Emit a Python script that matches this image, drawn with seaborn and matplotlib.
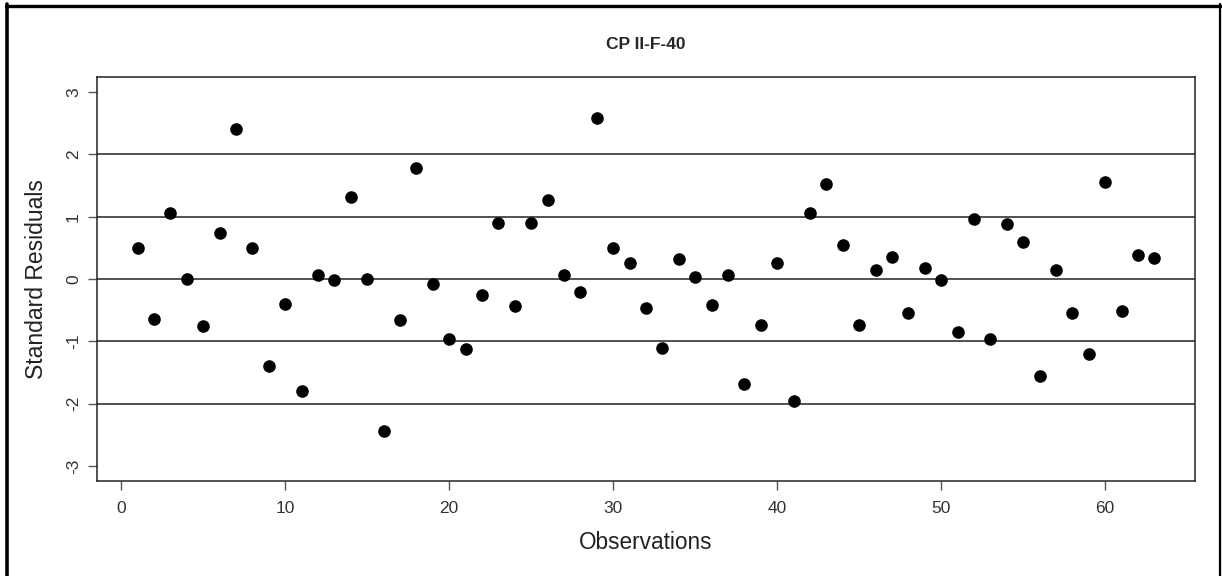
import matplotlib
matplotlib.use('Agg')

import matplotlib.pyplot as plt
import seaborn as sns
import pandas as pd
from matplotlib.lines import Line2D

observations = list(range(1, 64))
residuals = [0.49, -0.64, 1.06, 0.0, -0.76, 0.74, 2.40, 0.50, -1.39, -0.40,
             -1.80, 0.07, -0.02, 1.31, 0.0, -2.44, -0.65, 1.78, -0.08, -0.96,
             -1.13, -0.26, 0.90, -0.44, 0.90, 1.26, 0.07, -0.21, 2.58, 0.50,
             0.26, -0.47, -1.11, 0.32, 0.04, -0.41, 0.07, -1.68, -0.73, 0.26,
             -1.95, 1.06, 1.52, 0.55, -0.74, 0.14, 0.36, -0.55, 0.17, -0.02,
             -0.85, 0.96, -0.97, 0.89, 0.60, -1.56, 0.14, -0.54, -1.20, 1.56,
             -0.52, 0.39, 0.33]
ref_lines = [-2, -1, 0, 1, 2]
x_ticks = [0, 10, 20, 30, 40, 50, 60]
y_ticks = [-3, -2, -1, 0, 1, 2, 3]

df = pd.DataFrame({'obs': observations, 'res': residuals})

sns.set_style('white')
plt.rcParams['font.family'] = ['Liberation Sans', 'DejaVu Sans']

fig = plt.figure(figsize=(12.22, 5.76), dpi=100)
ax = fig.add_axes([0.0794, 0.1649, 0.8985, 0.7014])

for h in ref_lines:
    ax.axhline(h, color='#222222', lw=1.1, zorder=1)

sns.scatterplot(data=df, x='obs', y='res', ax=ax, color='black', s=82,
                edgecolor='black', linewidth=0, zorder=3)

ax.set_xlim(-1.48, 65.48)
ax.set_ylim(-3.24, 3.24)
ax.set_xticks(x_ticks)
ax.set_yticks(y_ticks)
ax.set_yticklabels([str(t) for t in y_ticks], rotation=90, va='center')
ax.tick_params(axis='both', direction='out', length=6.5, width=1,
               color='#555555', labelcolor='#333333', labelsize=12.5,
               bottom=True, left=True)
ax.tick_params(axis='x', pad=8)
ax.tick_params(axis='y', pad=5)
for sp in ax.spines.values():
    sp.set_color('#222222')
    sp.set_linewidth(1.1)

ax.set_xlabel('Observations', fontsize=16.3, color='#222222', labelpad=11)
ax.set_ylabel('Standard Residuals', fontsize=16.5, color='#222222', labelpad=13)
ax.set_title('CP II-F-40', fontsize=12.5, fontweight='bold', pad=20)

# outer frame of the source figure
W, H = 1222, 576
fig.add_artist(Line2D([7.5 / W, 7.5 / W], [0, 1 - 4 / H], transform=fig.transFigure,
                      color='black', lw=2.6))
fig.add_artist(Line2D([6 / W, 1220.5 / W], [1 - 5.5 / H, 1 - 5.5 / H],
                      transform=fig.transFigure, color='black', lw=2.4))
fig.add_artist(Line2D([1220 / W, 1220 / W], [0, 1 - 4 / H], transform=fig.transFigure,
                      color='black', lw=1.6))

fig.savefig('out.png', dpi=100)
